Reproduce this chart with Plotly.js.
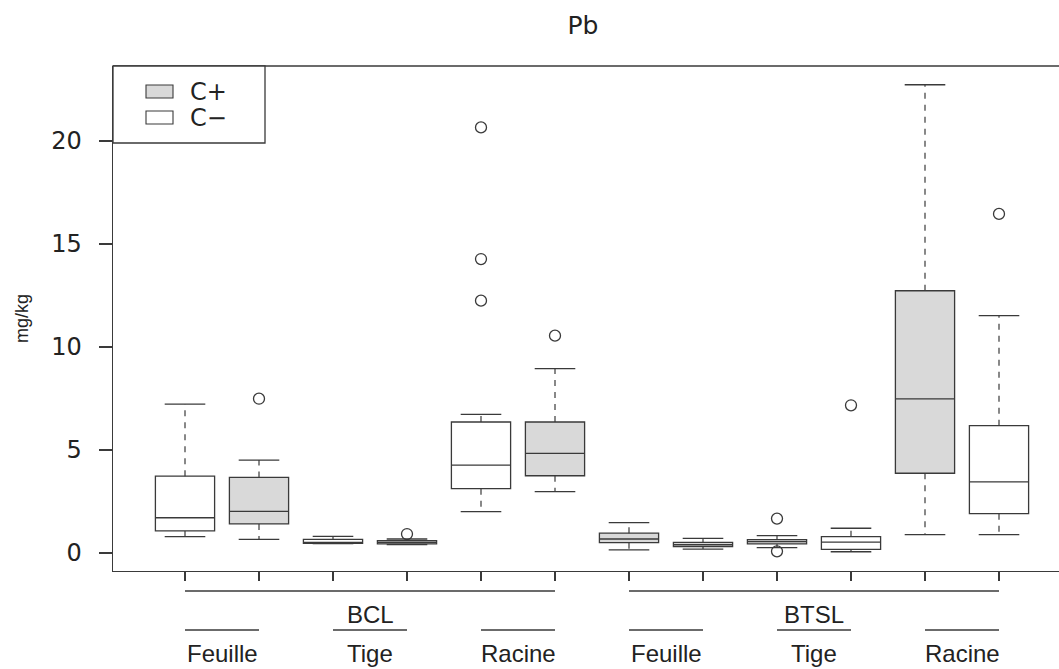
<!DOCTYPE html>
<html>
<head>
<meta charset="utf-8">
<script src="https://cdn.plot.ly/plotly-3.0.1.min.js"></script>
<style>
  html, body { margin: 0; padding: 0; background: #ffffff; }
  #chart { width: 1059px; height: 669px; }
</style>
</head>
<body>
<div id="chart"></div>
<script>
// Pb concentration (mg/kg) per site, organ and treatment
const positions = [1, 2, 3, 4, 5, 6, 7, 8, 9, 10, 11, 12];
const sites     = ['BCL', 'BCL', 'BCL', 'BCL', 'BCL', 'BCL',
                   'BTSL', 'BTSL', 'BTSL', 'BTSL', 'BTSL', 'BTSL'];
const organs    = ['Feuille', 'Feuille', 'Tige', 'Tige', 'Racine', 'Racine',
                   'Feuille', 'Feuille', 'Tige', 'Tige', 'Racine', 'Racine'];
const treatment = ['C−', 'C+', 'C−', 'C+', 'C−', 'C+',
                   'C+', 'C+', 'C+', 'C−', 'C+', 'C−'];

const lowerWhisker = [0.79, 0.66, 0.45, 0.41, 2.01, 2.98, 0.15, 0.19, 0.26, 0.06, 0.89, 0.89];
const q1           = [1.07, 1.41, 0.47, 0.44, 3.12, 3.75, 0.50, 0.31, 0.44, 0.18, 3.87, 1.91];
const medians      = [1.71, 2.02, 0.50, 0.52, 4.27, 4.84, 0.68, 0.40, 0.55, 0.53, 7.48, 3.45];
const q3           = [3.73, 3.67, 0.66, 0.60, 6.36, 6.36, 0.96, 0.52, 0.65, 0.79, 12.73, 6.18];
const upperWhisker = [7.23, 4.51, 0.81, 0.68, 6.73, 8.95, 1.47, 0.71, 0.84, 1.20, 22.73, 11.52];

// Outlying observations: box position and value
const outlierPos = [2, 4, 5, 5, 5, 6, 9, 9, 10, 12];
const outlierVal = [7.49, 0.92, 20.66, 14.27, 12.25, 10.55, 1.67, 0.08, 7.17, 16.46];

const yTicks = [0, 5, 10, 15, 20];

const ink = '#3a3a3a';
const fills = { 'C+': '#d9d9d9', 'C−': '#ffffff' };
const numFont = 'DejaVu Sans, Verdana, sans-serif';
const narrowFont = 'Liberation Sans Narrow, Arial Narrow, Liberation Sans, sans-serif';

// Plot area geometry in pixels
const W = 1059, H = 669;
const M = { l: 113, r: 0, t: 66, b: 98 };
const plotW = W - M.l - M.r, plotH = H - M.t - M.b;
const px2x = X => (X - M.l) / plotW;
const px2y = Y => (H - M.b - Y) / plotH;

const traces = [];

// Box bodies, one trace per treatment
['C+', 'C−'].forEach(kind => {
  const idx = positions.map((p, i) => i).filter(i => treatment[i] === kind);
  traces.push({
    type: 'box',
    name: kind,
    x: idx.map(i => positions[i]),
    q1: idx.map(i => q1[i]),
    median: idx.map(i => medians[i]),
    q3: idx.map(i => q3[i]),
    lowerfence: idx.map(i => q1[i]),
    upperfence: idx.map(i => q3[i]),
    boxpoints: false,
    width: 0.8,
    whiskerwidth: 0,
    fillcolor: fills[kind],
    line: { color: ink, width: 1.3 },
    showlegend: false,
    hoverinfo: 'skip'
  });
});

// Dashed whiskers
const wx = [], wy = [];
positions.forEach((p, i) => {
  wx.push(p, p, null, p, p, null);
  wy.push(q3[i], upperWhisker[i], null, q1[i], lowerWhisker[i], null);
});
traces.push({
  type: 'scatter', mode: 'lines', x: wx, y: wy,
  line: { color: ink, width: 1.2, dash: '6px,6px' },
  showlegend: false, hoverinfo: 'skip'
});

// Whisker caps
traces.push({
  type: 'scatter', mode: 'markers',
  x: positions.concat(positions),
  y: upperWhisker.concat(lowerWhisker),
  marker: { symbol: 'line-ew', size: 29, line: { color: ink, width: 1.3 } },
  showlegend: false, hoverinfo: 'skip'
});

// Outliers
traces.push({
  type: 'scatter', mode: 'markers', x: outlierPos, y: outlierVal,
  marker: { symbol: 'circle-open', size: 11, color: ink, line: { color: ink, width: 1.3 } },
  showlegend: false, hoverinfo: 'skip'
});

const shapes = [];
const annotations = [];

// Frame top edge
shapes.push({ type: 'line', xref: 'paper', yref: 'paper', x0: 0, x1: 1, y0: 1, y1: 1,
  line: { color: ink, width: 1.3 } });

// Two-level category axis: site brackets and organ underlines
const yBracket = px2y(591), ySite = px2y(614), yUnder = px2y(630), yOrgan = px2y(653);
const siteList = [...new Set(sites)];
siteList.forEach(s => {
  const ps = positions.filter((p, i) => sites[i] === s);
  const a = Math.min(...ps), b = Math.max(...ps);
  shapes.push({ type: 'line', xref: 'x', yref: 'paper', x0: a, x1: b, y0: yBracket, y1: yBracket,
    line: { color: ink, width: 1.3 } });
  annotations.push({ xref: 'x', yref: 'paper', x: (a + b) / 2, y: ySite, text: s,
    showarrow: false, xanchor: 'center', yanchor: 'middle',
    font: { family: narrowFont, size: 24, color: '#222' } });
  const orgList = [...new Set(organs.filter((o, i) => sites[i] === s))];
  orgList.forEach(o => {
    const po = positions.filter((p, i) => sites[i] === s && organs[i] === o);
    const c = Math.min(...po), d = Math.max(...po);
    shapes.push({ type: 'line', xref: 'x', yref: 'paper', x0: c, x1: d, y0: yUnder, y1: yUnder,
      line: { color: ink, width: 1.3 } });
    annotations.push({ xref: 'x', yref: 'paper', x: (c + d) / 2, y: yOrgan, text: o,
      showarrow: false, xanchor: 'center', yanchor: 'middle',
      font: { family: narrowFont, size: 24, color: '#222' } });
  });
});

// Legend box
shapes.push({ type: 'rect', xref: 'paper', yref: 'paper',
  x0: px2x(113), x1: px2x(265), y0: px2y(143), y1: px2y(66),
  line: { color: ink, width: 1.3 }, fillcolor: '#ffffff' });
[['C+', 85, 98, 92], ['C−', 111, 124, 118]].forEach(([k, t, b, c]) => {
  shapes.push({ type: 'rect', xref: 'paper', yref: 'paper',
    x0: px2x(146), x1: px2x(173), y0: px2y(b), y1: px2y(t),
    line: { color: ink, width: 1.1 }, fillcolor: fills[k] });
  annotations.push({ xref: 'paper', yref: 'paper', x: px2x(188), y: px2y(c), text: k,
    showarrow: false, xanchor: 'left', yanchor: 'middle',
    font: { family: numFont, size: 24, color: '#222' } });
});

const layout = {
  width: W, height: H,
  margin: M,
  paper_bgcolor: '#ffffff', plot_bgcolor: '#ffffff',
  showlegend: false,
  title: {
    text: 'Pb', x: 583 / W, xanchor: 'center', y: 1 - 25 / H, yanchor: 'middle',
    font: { family: numFont, size: 25, color: '#222' }
  },
  xaxis: {
    range: [0.027, 12 + (W - M.r - 999) / 74],
    tickvals: positions, showticklabels: false,
    ticks: 'outside', ticklen: 9, tickwidth: 1.2, tickcolor: ink,
    showline: true, linecolor: ink, linewidth: 1.3,
    showgrid: false, zeroline: false, fixedrange: true
  },
  yaxis: {
    range: [-0.874, 23.64],
    tickvals: yTicks, ticktext: yTicks.map(String),
    ticks: 'outside', ticklen: 13, tickwidth: 1.2, tickcolor: ink,
    ticklabelstandoff: 12,
    tickfont: { family: numFont, size: 24, color: '#222' },
    showline: true, linecolor: ink, linewidth: 1.3,
    showgrid: false, zeroline: false, fixedrange: true,
    title: { text: 'mg/kg', standoff: 18, font: { family: narrowFont, size: 18, color: '#222' } }
  },
  shapes: shapes,
  annotations: annotations
};

Plotly.newPlot('chart', traces, layout, { staticPlot: true, displayModeBar: false });
</script>
</body>
</html>
